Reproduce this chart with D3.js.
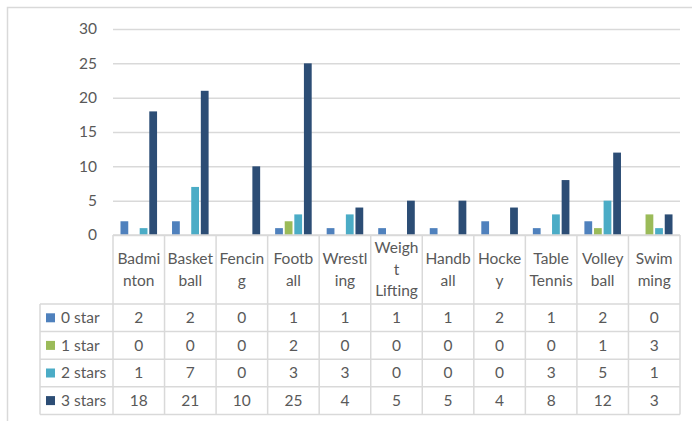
<!DOCTYPE html>
<html>
<head>
<meta charset="utf-8">
<script src="https://cdn.jsdelivr.net/npm/d3@7"></script>
<style>
  body { margin: 0; background: #fff; }
  text { font-family: Lato, 'Open Sans', sans-serif; fill: #595959; }
</style>
</head>
<body>
<div id="chart"></div>
<script>
// categories, with the wrapped header lines as they show in the data table
let sports = ['Badminton', 'Basketball', 'Fencing', 'Football', 'Wrestling', 'Weight Lifting',
  'Handball', 'Hockey', 'Table Tennis', 'Volleyball', 'Swimming']
let sportLines = [['Badmi', 'nton'], ['Basket', 'ball'], ['Fencin', 'g'], ['Footb', 'all'],
  ['Wrestl', 'ing'], ['Weigh', 't', 'Lifting'], ['Handb', 'all'], ['Hocke', 'y'],
  ['Table', 'Tennis'], ['Volley', 'ball'], ['Swim', 'ming']]

let seriesNames = ['0 star', '1 star', '2 stars', '3 stars']
let zeroStar = [2, 2, 0, 1, 1, 1, 1, 2, 1, 2, 0]
let oneStar = [0, 0, 0, 2, 0, 0, 0, 0, 0, 1, 3]
let twoStars = [1, 7, 0, 3, 3, 0, 0, 0, 3, 5, 1]
let threeStars = [18, 21, 10, 25, 4, 5, 5, 4, 8, 12, 3]
let yTicks = [0, 5, 10, 15, 20, 25, 30]

let seriesValues = [zeroStar, oneStar, twoStars, threeStars]
let colors = ['#4f81bd', '#9bbb59', '#4bacc6', '#2c4d75']

let width = 692
let height = 421
let plot = { left: 113, right: 680, top: 29, bottom: 235 }
let table = { left: 40, headerBottom: 304, rowH: 27.6 }
let gridColor = '#d9d9d9'

let svg = d3.select('#chart')
  .append('svg')
  .attr('width', width)
  .attr('height', height)

// chart area border (runs off the right and bottom edge)
svg.append('rect')
  .attr('x', 7.5).attr('y', 7.5)
  .attr('width', 700).attr('height', 430)
  .attr('fill', 'none')
  .attr('stroke', gridColor)
  .attr('stroke-width', 1.5)

let x0 = d3.scaleBand().domain(sports).range([plot.left, plot.right])
let x1 = d3.scaleBand().domain(seriesNames).range([0, x0.bandwidth()])
  .paddingInner(0.19).paddingOuter(0.78)
let y = d3.scaleLinear().domain([0, 30]).range([plot.bottom, plot.top])

// gridlines + y labels
let yAxis = d3.axisLeft(y).tickValues(yTicks).tickSize(-(plot.right - plot.left)).tickPadding(16)
let yG = svg.append('g')
  .attr('transform', 'translate(' + plot.left + ',0)')
  .call(yAxis)
yG.select('.domain').remove()
yG.selectAll('.tick line').attr('stroke', gridColor).attr('stroke-width', 1.5)
yG.selectAll('.tick text')
  .style('font-size', '15.5px')
  .style('font-family', 'Lato, sans-serif')
  .attr('fill', '#595959')

// bars
let rows = sports.map((s, i) => ({ sport: s, values: seriesNames.map((n, j) => ({ name: n, value: seriesValues[j][i], color: colors[j] })) }))

let groups = svg.selectAll('.group')
  .data(rows)
  .enter()
  .append('g')
  .attr('class', 'group')
  .attr('transform', d => 'translate(' + x0(d.sport) + ',0)')

groups.selectAll('rect')
  .data(d => d.values.filter(v => v.value > 0))
  .enter()
  .append('rect')
  .attr('x', d => x1(d.name))
  .attr('y', d => y(d.value))
  .attr('width', x1.bandwidth())
  .attr('height', d => y(0) - y(d.value))
  .attr('fill', d => d.color)

// data table
let tableBottom = table.headerBottom + table.rowH * seriesNames.length
let lines = svg.append('g')
  .attr('stroke', gridColor)
  .attr('stroke-width', 1.5)

// horizontal lines
lines.append('line')
  .attr('x1', plot.left).attr('x2', plot.right)
  .attr('y1', plot.bottom).attr('y2', plot.bottom)
seriesNames.concat(['end']).forEach((n, i) => {
  let yy = table.headerBottom + i * table.rowH
  lines.append('line')
    .attr('x1', table.left).attr('x2', plot.right)
    .attr('y1', yy).attr('y2', yy)
})
// vertical lines
lines.append('line')
  .attr('x1', table.left).attr('x2', table.left)
  .attr('y1', table.headerBottom).attr('y2', tableBottom)
sports.forEach(s => {
  lines.append('line')
    .attr('x1', x0(s)).attr('x2', x0(s))
    .attr('y1', plot.bottom).attr('y2', tableBottom)
})
lines.append('line')
  .attr('x1', plot.right).attr('x2', plot.right)
  .attr('y1', plot.bottom).attr('y2', tableBottom)

// header labels
let headerMid = (plot.bottom + table.headerBottom) / 2
let lineH = 21.5
sports.forEach((s, i) => {
  let parts = sportLines[i]
  let t = svg.append('text')
    .attr('text-anchor', 'middle')
    .attr('font-size', '15.5px')
  parts.forEach((p, k) => {
    t.append('tspan')
      .attr('x', x0(s) + x0.bandwidth() / 2)
      .attr('y', headerMid + (k - (parts.length - 1) / 2) * lineH)
      .attr('dy', '0.35em')
      .text(p)
  })
})

// legend keys + values
seriesNames.forEach((n, j) => {
  let cy = table.headerBottom + (j + 0.5) * table.rowH
  svg.append('rect')
    .attr('x', 46).attr('y', cy - 4.5)
    .attr('width', 9).attr('height', 9)
    .attr('fill', colors[j])
  svg.append('text')
    .attr('x', 61).attr('y', cy)
    .attr('dy', '0.35em')
    .attr('font-size', '15.5px')
    .text(n)
  sports.forEach((s, i) => {
    svg.append('text')
      .attr('x', x0(s) + x0.bandwidth() / 2)
      .attr('y', cy)
      .attr('dy', '0.35em')
      .attr('text-anchor', 'middle')
      .attr('font-size', '15.5px')
      .text(seriesValues[j][i])
  })
})
</script>
</body>
</html>
